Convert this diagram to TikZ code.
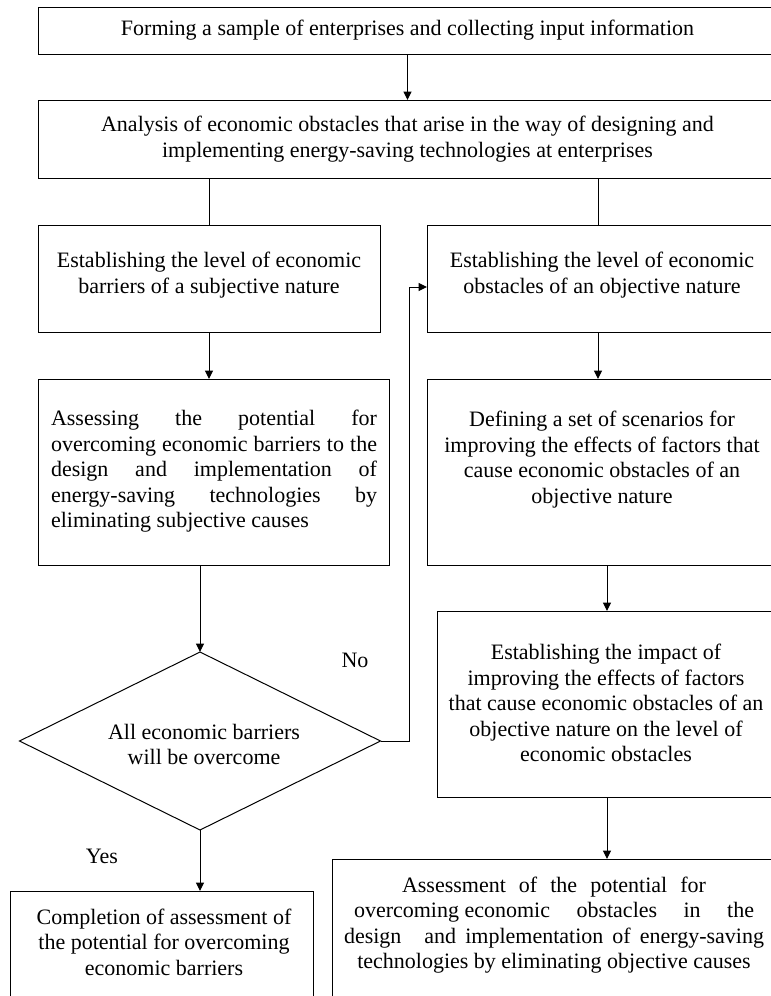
\documentclass[tikz,border=0pt]{standalone}
\usepackage{fontspec}
\setmainfont{Liberation Serif}
\usetikzlibrary{arrows.meta,shapes.geometric}
\begin{document}
\begin{tikzpicture}[x=1pt,y=-1pt,
  box/.style={draw, line width=1pt, rectangle, inner sep=0pt, outer sep=0pt},
  dia/.style={draw, line width=1pt, diamond, aspect=2.03, inner sep=0pt, outer sep=0pt,
              minimum width=361pt, minimum height=178pt},
  txt/.style={inner sep=0pt, align=center, font=\fontsize{22}{25.5}\selectfont},
  arr/.style={line width=1pt,-{Triangle[length=8.5pt,width=8pt]}},
  ln/.style={line width=1pt}]
\useasboundingbox (0,0) rectangle (771,996);
\clip (0,0) rectangle (771,996);
\fill[white] (0,0) rectangle (771,996);

% boxes
\node[box, minimum width=739pt, minimum height=47pt]  (b1) at (407.5,30.5) {};
\node[box, minimum width=739pt, minimum height=78pt]  (b2) at (407.5,139) {};
\node[box, minimum width=342pt, minimum height=107pt] (b3) at (209,278.5) {};
\node[box, minimum width=350pt, minimum height=107pt] (b4) at (602,278.5) {};
\node[box, minimum width=351pt, minimum height=186pt] (b5) at (213.5,472) {};
\node[box, minimum width=350pt, minimum height=186pt] (b6) at (602,472) {};
\node[dia] (d) at (200,741) {};
\node[box, minimum width=340pt, minimum height=186pt] (b7) at (607,704) {};
\node[box, minimum width=468pt, minimum height=161pt] (b8) at (566,939.5) {};
\node[box, minimum width=303pt, minimum height=129pt] (b9) at (161.5,955.5) {};

% texts
\node[txt] (t1) at (407.5,30.5) {Forming a sample of enterprises and collecting input information};
\node[txt] (t2) at (407.5,139) {Analysis of economic obstacles that arise in the way of designing and\\implementing energy-saving technologies at enterprises};
\node[txt] (t3) at (209,275) {Establishing the level of economic\\barriers of a subjective nature};
\node[txt] (t4) at (602,275) {Establishing the level of economic\\obstacles of an objective nature};
\node[txt, text width=326pt, align=left] (t5) at (214,471.5) {\spaceskip=0pt\xspaceskip=0pt\relax
\makebox[326pt][s]{Assessing the potential for}\\
\makebox[326pt][s]{overcoming economic barriers to the}\\
\makebox[326pt][s]{design and implementation of}\\
\makebox[326pt][s]{energy-saving technologies by}\\
eliminating subjective causes};
\node[txt] (t6) at (602,459.5) {Defining a set of scenarios for\\improving the effects of factors that\\cause economic obstacles of an\\objective nature};
\node[txt] (td) at (204,744.5) {All economic barriers\\will be overcome};
\node[txt] (t7) at (606,703) {Establishing the impact of\\improving the effects of factors\\that cause economic obstacles of an\\objective nature on the level of\\economic obstacles};
\node[txt] (t8) at (554,925) {%
\makebox[304pt][s]{Assessment of the potential for}\\
\makebox[400pt][s]{overcoming economic\hspace{0pt plus 1fil} obstacles\hspace{0pt plus 1fil} in\hspace{0pt plus 1fil} the}\\
\makebox[420pt][s]{design\hspace{14pt} and implementation of energy-saving}\\
technologies by eliminating objective causes};
\node[txt] (t9) at (164,942) {Completion of assessment of\\the potential for overcoming\\economic barriers};
\node[txt] (no) at (355,660) {No};
\node[txt] (yes) at (102,856) {Yes};

% connectors
\draw[arr] (b1.south) -- (b2.north);
\draw[ln] (b2.south -| b3.north) -- (b3.north);
\draw[ln] ([xshift=-4pt]b4.north |- b2.south) -- ([xshift=-4pt]b4.north);
\draw[arr] (b3.south) -- (b5.north -| b3.south);
\draw[arr] ([xshift=-4pt]b4.south) -- ([xshift=-4pt]b6.north);
\draw[arr] (b5.south -| d.north) -- (d.north);
\draw[arr] (d.east) -| ([xshift=-18pt,yshift=-8.5pt]b4.west) -- ([yshift=-8.5pt]b4.west);
\draw[arr] (d.south) -- (d.south |- b9.north);
\draw[arr] (b6.south -| b7.north) -- (b7.north);
\draw[arr] (b7.south) -- (b7.south |- b8.north);
\end{tikzpicture}
\end{document}
